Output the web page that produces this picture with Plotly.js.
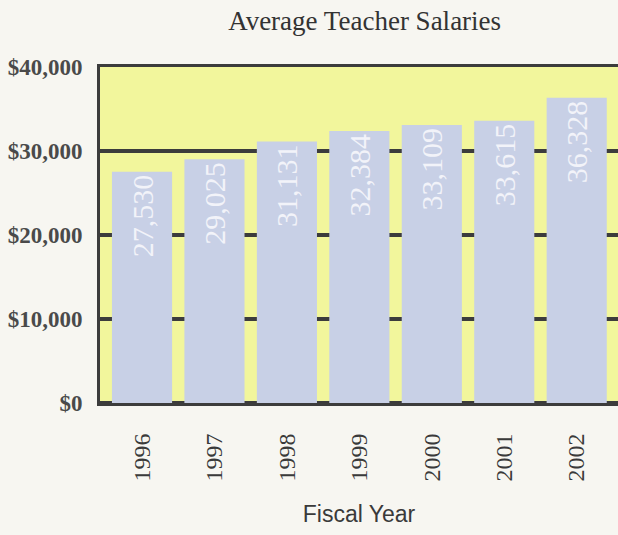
<!DOCTYPE html>
<html>
<head>
<meta charset="utf-8">
<script src="https://cdn.plot.ly/plotly-3.0.1.min.js"></script>
<style>
  body { margin: 0; background: #f7f6f1; }
  #chart { width: 618px; height: 535px; }
</style>
</head>
<body>
<div id="chart"></div>
<script>
// fiscal years and average salary per year
const years = ['1996', '1997', '1998', '1999', '2000', '2001', '2002'];
const salaries = [27530, 29025, 31131, 32384, 33109, 33615, 36328];
const yTicks = [0, 10000, 20000, 30000, 40000];
const yTickText = ['$0', '$10,000', '$20,000', '$30,000', '$40,000'];

function drawChart() {
    const bars = {
        type: 'bar',
        x: years,
        y: salaries,
        text: salaries.map(v => v.toLocaleString('en-US')),
        textposition: 'inside',
        insidetextanchor: 'end',
        textangle: -90,
        constraintext: 'none',
        textfont: { family: 'Liberation Serif, serif', size: 30, color: '#f2f3f9' },
        marker: { color: '#c8d0e6', line: { width: 0 } },
        hoverinfo: 'x+y'
    };

    const layout = {
        width: 618,
        height: 535,
        margin: { l: 100, r: 0, t: 67, b: 132 },
        paper_bgcolor: '#f7f6f1',
        plot_bgcolor: '#f2f69c',
        bargap: 0.17,
        showlegend: false,
        title: {
            text: 'Average Teacher Salaries',
            font: { family: 'Liberation Serif, serif', size: 27, color: '#333333' },
            x: 0.59,
            xanchor: 'center',
            y: 0.962,
            yanchor: 'middle'
        },
        xaxis: {
            type: 'category',
            range: [-0.58, 6.57],
            tickangle: -90,
            ticks: '',
            ticklabelstandoff: 18,
            tickfont: { family: 'Liberation Serif, serif', size: 24, color: '#3a3a3a' },
            showgrid: false,
            showline: true,
            mirror: true,
            linecolor: '#3c3c3c',
            linewidth: 3,
            layer: 'below traces',
            title: {
                text: 'Fiscal Year',
                font: { family: 'Liberation Sans, Arial, sans-serif', size: 23, color: '#3a3a3a' },
                standoff: 26
            }
        },
        yaxis: {
            range: [0, 40000],
            tickvals: yTicks,
            ticktext: yTickText,
            ticks: '',
            ticklabelstandoff: 10,
            tickfont: { family: 'Liberation Serif, serif', size: 23, weight: 'bold', color: '#4a4a4a' },
            showgrid: true,
            gridcolor: '#3c3c3c',
            gridwidth: 4,
            zeroline: true,
            zerolinecolor: '#3c3c3c',
            zerolinewidth: 4,
            zerolinelayer: 'below traces',
            showline: true,
            linecolor: '#3c3c3c',
            linewidth: 3,
            layer: 'below traces'
        }
    };

    Plotly.newPlot('chart', [bars], layout, { displayModeBar: false, staticPlot: true });
}

document.addEventListener('DOMContentLoaded', drawChart);
</script>
</body>
</html>
